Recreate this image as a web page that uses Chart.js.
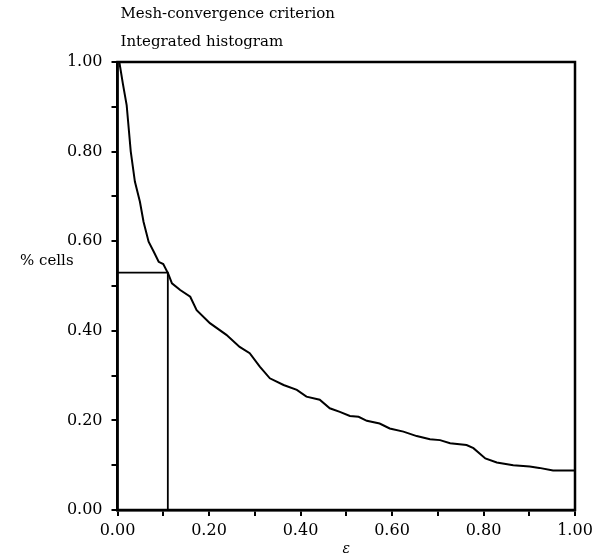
<!DOCTYPE html>
<html>
<head>
<meta charset="utf-8">
<script src="https://cdn.jsdelivr.net/npm/chart.js@4"></script>
<style>
  html, body { margin: 0; padding: 0; background: #fff; }
  #wrap { width: 596px; height: 558px; }
</style>
</head>
<body>
<div id="wrap"><canvas id="histChart" width="596" height="558"></canvas></div>
<script>
// integrated histogram: fraction of cells with error above epsilon
const epsValues = [0.004, 0.012, 0.020, 0.029, 0.038, 0.049, 0.057, 0.068, 0.079, 0.090,
  0.100, 0.111, 0.119, 0.137, 0.159, 0.173, 0.202, 0.238, 0.267, 0.289,
  0.311, 0.333, 0.363, 0.392, 0.413, 0.442, 0.464, 0.486, 0.508, 0.527,
  0.545, 0.573, 0.595, 0.625, 0.654, 0.683, 0.705, 0.727, 0.763, 0.778,
  0.804, 0.829, 0.865, 0.901, 0.922, 0.952, 1.000];
const cellValues = [1.000, 0.950, 0.904, 0.800, 0.733, 0.688, 0.643, 0.599, 0.577, 0.554,
  0.549, 0.527, 0.506, 0.491, 0.476, 0.446, 0.417, 0.391, 0.364, 0.350,
  0.320, 0.294, 0.279, 0.268, 0.253, 0.246, 0.227, 0.219, 0.210, 0.208,
  0.199, 0.193, 0.182, 0.175, 0.165, 0.158, 0.156, 0.149, 0.145, 0.138,
  0.115, 0.106, 0.100, 0.097, 0.094, 0.088, 0.088];

// criterion marker
const critEps = 0.11;
const critCells = 0.53;

const titleLines = ['Mesh-convergence criterion', 'Integrated histogram'];
const yTitle = '% cells';
const xTitle = 'ε';

const serif = '"DejaVu Serif", "Liberation Serif", serif';

const curve = epsValues.map((e, i) => ({ x: e, y: cellValues[i] }));
const marker = [
  { x: 0, y: critCells },
  { x: critEps, y: critCells },
  { x: critEps, y: 0 }
];

const frameAndText = {
  id: 'frameAndText',
  afterDraw(chart) {
    const { ctx, chartArea: a } = chart;
    ctx.save();
    ctx.strokeStyle = '#000';
    ctx.lineWidth = 2.5;
    ctx.strokeRect(a.left, a.top, a.right - a.left, a.bottom - a.top);
    ctx.fillStyle = '#000';
    ctx.font = '15px ' + serif;
    ctx.textBaseline = 'middle';
    ctx.textAlign = 'left';
    ctx.fillText(titleLines[0], a.left + 3, 14);
    ctx.fillText(titleLines[1], a.left + 3, 42);
    const yPos = chart.scales.y.getPixelForValue(0.555);
    ctx.fillText(yTitle, 20, yPos);
    ctx.restore();
  }
};

function tickLabel(v) {
  const n = Math.round(v * 10);
  return n % 2 === 0 ? (n / 10).toFixed(2) : '';
}

new Chart(document.getElementById('histChart'), {
  type: 'scatter',
  data: {
    datasets: [
      {
        data: curve,
        showLine: true,
        borderColor: '#000',
        borderWidth: 2,
        pointRadius: 0,
        tension: 0
      },
      {
        data: marker,
        showLine: true,
        borderColor: '#000',
        borderWidth: 1.8,
        pointRadius: 0,
        tension: 0
      }
    ]
  },
  options: {
    responsive: false,
    animation: false,
    layout: { padding: { top: 62, right: 21, left: 0, bottom: 0 } },
    plugins: {
      legend: { display: false },
      tooltip: { enabled: false }
    },
    scales: {
      x: {
        type: 'linear',
        min: 0,
        max: 1,
        afterFit(s) { s.height = 48; s.paddingRight = 0; },
        border: { color: '#000', width: 2.5 },
        grid: { drawOnChartArea: false, drawTicks: true, tickLength: 6, color: '#000', lineWidth: 2 },
        ticks: {
          stepSize: 0.1,
          autoSkip: false,
          maxRotation: 0,
          color: '#000',
          padding: 5,
          font: { family: serif, size: 16 },
          callback: tickLabel
        },
        title: {
          display: true,
          text: xTitle,
          color: '#000',
          padding: { top: 0, bottom: 0 },
          font: { family: serif, size: 14, style: 'italic' }
        }
      },
      y: {
        type: 'linear',
        min: 0,
        max: 1,
        afterFit(s) { s.width = 117.5; },
        border: { color: '#000', width: 2.5 },
        grid: { drawOnChartArea: false, drawTicks: true, tickLength: 6, color: '#000', lineWidth: 2 },
        ticks: {
          stepSize: 0.1,
          autoSkip: false,
          color: '#000',
          padding: 9,
          font: { family: serif, size: 16 },
          callback: tickLabel
        }
      }
    }
  },
  plugins: [frameAndText]
});
</script>
</body>
</html>
